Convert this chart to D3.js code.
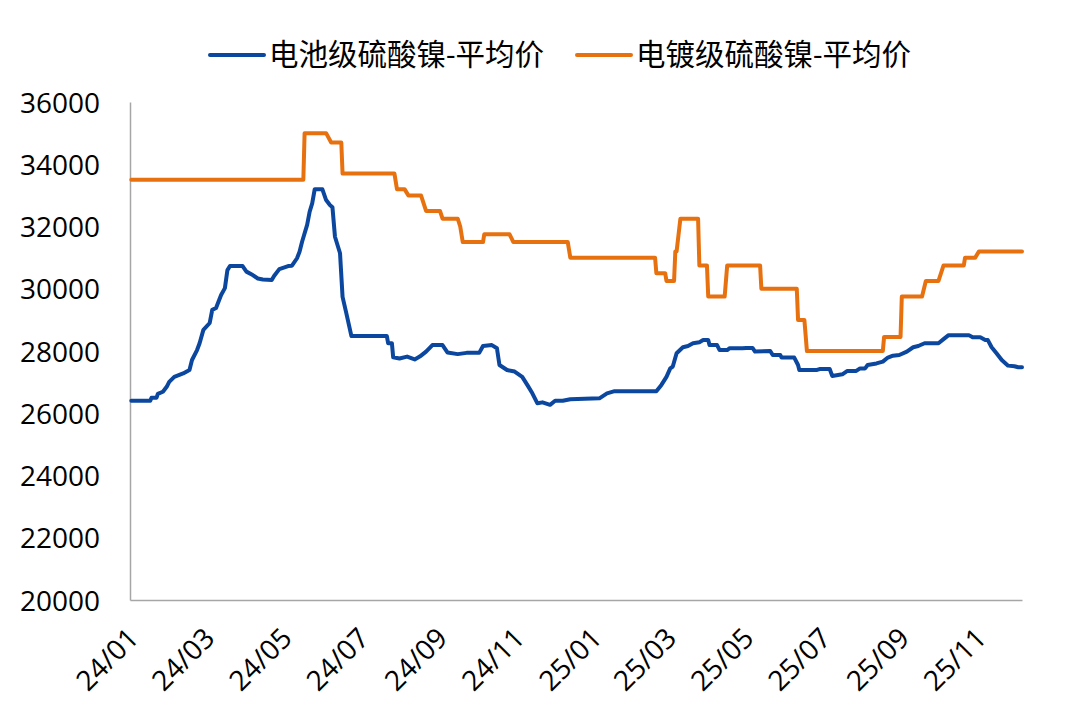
<!DOCTYPE html>
<html>
<head>
<meta charset="utf-8">
<script src="https://cdn.jsdelivr.net/npm/d3@7"></script>
<style>
  html, body { margin: 0; padding: 0; background: #ffffff; }
  svg { display: block; }
  text { font-family: "Open Sans", "Noto Sans CJK SC", sans-serif; fill: #000; }
</style>
</head>
<body>
<svg id="chart" width="1080" height="720"></svg>
<script>
// ---- data ----
const seriesNames = ["电池级硫酸镍-平均价", "电镀级硫酸镍-平均价"];
const seriesColors = ["#0B479E", "#E8710F"];

const xTickLabels = ["24/01","24/03","24/05","24/07","24/09","24/11","25/01","25/03","25/05","25/07","25/09","25/11"];
const yTicks = [20000, 22000, 24000, 26000, 28000, 30000, 32000, 34000, 36000];

const batteryDates = [
  "2024-01-02","2024-01-17","2024-01-18","2024-01-22","2024-01-23","2024-01-27","2024-01-30","2024-02-01","2024-02-05","2024-02-12",
  "2024-02-17","2024-02-19","2024-02-23","2024-02-25","2024-02-28","2024-03-04","2024-03-06","2024-03-09","2024-03-13","2024-03-16",
  "2024-03-18","2024-03-20","2024-03-30","2024-04-02","2024-04-07","2024-04-11","2024-04-15","2024-04-22","2024-04-24","2024-04-28",
  "2024-05-05","2024-05-08","2024-05-12","2024-05-14","2024-05-16","2024-05-20","2024-05-22","2024-05-24","2024-05-26","2024-06-01",
  "2024-06-04","2024-06-07","2024-06-09","2024-06-11","2024-06-15","2024-06-17","2024-06-20","2024-06-24","2024-07-22","2024-07-23",
  "2024-07-26","2024-07-27","2024-08-01","2024-08-07","2024-08-13","2024-08-17","2024-08-22","2024-08-27","2024-09-04","2024-09-08",
  "2024-09-16","2024-09-23","2024-10-03","2024-10-06","2024-10-13","2024-10-17","2024-10-19","2024-10-25","2024-10-31","2024-11-06",
  "2024-11-10","2024-11-14","2024-11-18","2024-11-22","2024-11-28","2024-12-02","2024-12-08","2024-12-14","2025-01-06","2025-01-12",
  "2025-01-18","2025-02-20","2025-02-24","2025-02-28","2025-03-03","2025-03-05","2025-03-08","2025-03-13","2025-03-17","2025-03-21",
  "2025-03-26","2025-03-29","2025-04-02","2025-04-03","2025-04-09","2025-04-11","2025-04-17","2025-04-19","2025-04-29","2025-05-02",
  "2025-05-07","2025-05-09","2025-05-21","2025-05-23","2025-05-29","2025-05-30","2025-06-09","2025-06-12","2025-06-13","2025-06-27",
  "2025-06-29","2025-07-07","2025-07-09","2025-07-17","2025-07-21","2025-07-28","2025-07-31","2025-08-04","2025-08-06","2025-08-13",
  "2025-08-18","2025-08-22","2025-08-26","2025-08-31","2025-09-06","2025-09-11","2025-09-15","2025-09-20","2025-10-01","2025-10-05",
  "2025-10-09","2025-10-25","2025-10-28","2025-11-03","2025-11-07","2025-11-09","2025-11-12","2025-11-16","2025-11-20","2025-11-25",
  "2025-11-30","2025-12-03","2025-12-06"
];
const batteryValues = [
  26400,26400,26500,26500,26620,26690,26850,27010,27170,27280,
  27390,27710,28030,28250,28680,28900,29320,29380,29800,30020,
  30600,30730,30730,30550,30440,30330,30300,30280,30420,30630,
  30730,30740,30980,31190,31510,32050,32480,32740,33200,33200,
  32850,32690,32620,31670,31140,29740,29210,28480,28480,28250,
  28250,27800,27760,27820,27730,27820,27980,28190,28190,27950,
  27900,27940,27940,28160,28190,28090,27550,27390,27340,27170,
  26910,26640,26320,26350,26270,26400,26400,26450,26480,26640,
  26710,26710,26910,27170,27440,27500,27930,28120,28160,28250,
  28280,28350,28350,28190,28190,28030,28030,28090,28090,28100,
  28100,27980,28000,27870,27870,27790,27790,27550,27390,27390,
  27420,27420,27200,27250,27360,27360,27440,27440,27550,27600,
  27660,27790,27850,27870,27980,28120,28160,28250,28250,28380,
  28510,28510,28440,28440,28350,28350,28120,27920,27710,27530,
  27510,27480,27480
];

const platingDates = [
  "2024-01-02","2024-05-17","2024-05-18","2024-06-04","2024-06-08","2024-06-16","2024-06-17","2024-07-28","2024-07-30","2024-08-05",
  "2024-08-08","2024-08-18","2024-08-22","2024-09-02","2024-09-04","2024-09-16","2024-09-18","2024-09-20","2024-10-06","2024-10-07",
  "2024-10-27","2024-10-30","2024-12-12","2024-12-14","2025-02-19","2025-02-20","2025-02-27","2025-02-28","2025-03-06","2025-03-07",
  "2025-03-08","2025-03-11","2025-03-25","2025-03-26","2025-04-01","2025-04-02","2025-04-15","2025-04-17","2025-05-13","2025-05-14",
  "2025-06-11","2025-06-12","2025-06-17","2025-06-19","2025-08-18","2025-08-19","2025-09-01","2025-09-02","2025-09-18","2025-09-21",
  "2025-10-01","2025-10-05","2025-10-21","2025-10-22","2025-10-30","2025-11-02","2025-12-06"
];
const platingValues = [
  33500,33500,35000,35000,34700,34700,33700,33700,33200,33200,
  33000,33000,32500,32500,32250,32250,32000,31500,31500,31750,
  31750,31500,31500,31000,31000,30500,30500,30250,30250,31200,
  31200,32250,32250,30750,30750,29750,29750,30750,30750,30000,
  30000,29000,29000,28000,28000,28450,28450,29750,29750,30250,
  30250,30750,30750,31000,31000,31200,31200
];

// ---- chart ----
const parse = d3.timeParse("%Y-%m-%d");
const parseTick = d3.timeParse("%y/%m");
const svg = d3.select("#chart");

const plotLeft = 130, plotRight = 1022, plotTop = 102, plotBottom = 600;

const x = d3.scaleTime()
  .domain([parse("2024-01-01"), parse("2025-12-06")])
  .range([plotLeft, plotRight]);
const y = d3.scaleLinear()
  .domain([20000, 36000])
  .range([plotBottom, plotTop]);

// y axis
const yAxis = svg.append("g")
  .attr("transform", `translate(${plotLeft},0)`)
  .call(d3.axisLeft(y).tickValues(yTicks).tickSize(0).tickPadding(30).tickFormat(d3.format("d")));
yAxis.select(".domain").attr("stroke", "#a6a6a6").attr("stroke-width", 1.5);
yAxis.selectAll("text")
  .style("font-family", '"Open Sans", sans-serif')
  .style("font-size", "28px")
  .attr("fill", "#000")
  .attr("dy", "0.36em");

// x axis
const xAxis = svg.append("g")
  .attr("transform", `translate(0,${plotBottom})`)
  .call(d3.axisBottom(x).tickValues(xTickLabels.map(parseTick)).tickSize(0).tickFormat(d3.timeFormat("%y/%m")));
xAxis.select(".domain").attr("stroke", "#a6a6a6").attr("stroke-width", 1.5);
xAxis.selectAll("text")
  .style("font-family", '"Open Sans", sans-serif')
  .style("font-size", "28px")
  .attr("fill", "#000")
  .attr("text-anchor", "end")
  .attr("y", 0)
  .attr("dy", "0.35em")
  .attr("transform", "translate(3,33) rotate(-45)");

// lines
const line = d3.line()
  .x(d => x(d.date))
  .y(d => y(d.value));

const batteryData = batteryDates.map((d, i) => ({ date: parse(d), value: batteryValues[i] }));
const platingData = platingDates.map((d, i) => ({ date: parse(d), value: platingValues[i] }));

svg.append("path")
  .datum(platingData)
  .attr("fill", "none")
  .attr("stroke", seriesColors[1])
  .attr("stroke-width", 4)
  .attr("stroke-linejoin", "round")
  .attr("stroke-linecap", "round")
  .attr("d", line);

svg.append("path")
  .datum(batteryData)
  .attr("fill", "none")
  .attr("stroke", seriesColors[0])
  .attr("stroke-width", 4)
  .attr("stroke-linejoin", "round")
  .attr("stroke-linecap", "round")
  .attr("d", line);

// legend
const legendItems = [
  { name: seriesNames[0], color: seriesColors[0], x0: 210 },
  { name: seriesNames[1], color: seriesColors[1], x0: 577 }
];
const lg = svg.append("g");
legendItems.forEach(it => {
  lg.append("line")
    .attr("x1", it.x0).attr("x2", it.x0 + 54)
    .attr("y1", 55).attr("y2", 55)
    .attr("stroke", it.color).attr("stroke-width", 4)
    .attr("stroke-linecap", "round");
  lg.append("text")
    .attr("x", it.x0 + 59)
    .attr("y", 55)
    .attr("dy", "0.35em")
    .style("font-family", '"Open Sans", "Noto Sans CJK SC", sans-serif')
    .style("font-size", "29.5px")
    .text(it.name);
});
</script>
</body>
</html>
